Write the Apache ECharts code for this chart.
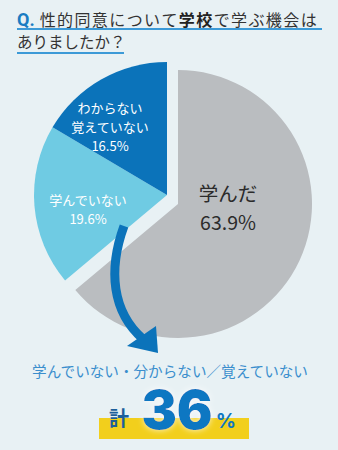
<!DOCTYPE html>
<html><head><meta charset="utf-8">
<script src="https://cdn.jsdelivr.net/npm/echarts@6/dist/echarts.min.js"></script>
<style>html,body{margin:0;padding:0;background:#e8f1f4;}#c{width:338px;height:450px;}</style>
</head><body><div id="c"></div>
<script>
const categories = ['学んだ', '学んでいない', 'わからない\n覚えていない'];
const values = [63.9, 19.6, 16.5];
const totalLabel = '36';
const sliceColors = ['#babdc0', '#6fcbe3', '#0b73ba'];
const JP = '"Noto Sans CJK JP", "Noto Sans", sans-serif';

const chart = echarts.init(document.getElementById('c'), null, {renderer: 'svg'});
const rest = values[1] + values[2];
const labelPos = {
  A0: [228, 207],
  B1: [88, 209],
  B2: [110, 126]
};
const lbl = (name, v) => name + '\n' + v.toFixed(1) + '%';
const place = p => ({x: p[0], y: p[1], align: 'center', verticalAlign: 'middle', hideOverlap: false, moveOverlap: null});

// title line 1 with slight tracking (justified in original)
const t1 = '性的同意について';
const t2 = 'で学ぶ機会は';
const tok = (s, st) => s.split('').map(c => '{' + st + '|' + c + '}').join('');
const titleRich = '{q|Q.}' + tok(t1, 'n') + tok('学校', 'b') + tok(t2, 'n');

chart.setOption({
  backgroundColor: '#e8f1f4',
  animation: false,
  series: [
    {
      type: 'pie', radius: 134, center: [178, 204], startAngle: 90, clockwise: true,
      silent: true, avoidLabelOverlap: false, labelLine: {show: false},
      label: {position: 'inside', overflow: 'none'},
      itemStyle: {borderWidth: 0},
      data: [
        {name: categories[0], value: values[0], itemStyle: {color: sliceColors[0]},
         label: {show: true, position: 'inside', overflow: 'none', formatter: lbl(categories[0], values[0]), color: '#2b2b2b', fontSize: 19.5, lineHeight: 28.5, fontFamily: JP}},
        {name: 'rest', value: rest, itemStyle: {color: 'rgba(0,0,0,0)'}, label: {show: false}}
      ],
      labelLayout: p => p.dataIndex === 0 ? place(labelPos.A0) : {}
    },
    {
      type: 'pie', radius: 133, center: [167, 195], startAngle: 90, clockwise: true,
      silent: true, avoidLabelOverlap: false, labelLine: {show: false},
      label: {position: 'inside', overflow: 'none'},
      itemStyle: {borderWidth: 0},
      data: [
        {name: 'gap', value: values[0], itemStyle: {color: 'rgba(0,0,0,0)'}, label: {show: false}},
        {name: categories[1], value: values[1], itemStyle: {color: sliceColors[1]},
         label: {show: true, position: 'inside', overflow: 'none', formatter: lbl(categories[1], values[1]), color: '#ffffff', fontSize: 13, lineHeight: 19, fontFamily: JP}},
        {name: categories[2], value: values[2], itemStyle: {color: sliceColors[2]},
         label: {show: true, position: 'inside', overflow: 'none', formatter: lbl(categories[2], values[2]), color: '#ffffff', fontSize: 13, lineHeight: 19, fontFamily: JP}}
      ],
      labelLayout: p => p.dataIndex === 1 ? place(labelPos.B1) : p.dataIndex === 2 ? place(labelPos.B2) : {}
    }
  ],
  graphic: [
    {type: 'text', left: 17, top: 10, style: {
      text: titleRich,
      rich: {
        q: {fontSize: 18, fontWeight: 'bold', fill: '#1a7cc2', fontFamily: 'Roboto, sans-serif', padding: [0, 5, 0, 0]},
        n: {fontSize: 16, fill: '#333333', fontFamily: JP, padding: [0, 1.4, 0, 0]},
        b: {fontSize: 16, fontWeight: 'bold', fill: '#222222', fontFamily: JP, padding: [0, 1.4, 0, 0]}
      }}},
    {type: 'text', left: 17, top: 33, style: {text: 'ありましたか？', fontSize: 15.5, fill: '#333333', fontFamily: JP}},
    {type: 'line', shape: {x1: 17, y1: 29, x2: 322, y2: 29}, style: {stroke: '#3c9ad7', lineWidth: 2}},
    {type: 'line', shape: {x1: 17, y1: 53, x2: 124, y2: 53}, style: {stroke: '#3c9ad7', lineWidth: 2}},
    {type: 'bezierCurve', shape: {x1: 124, y1: 226, cpx1: 108, cpy1: 270, cpx2: 112, cpy2: 312, x2: 143, y2: 339},
     style: {stroke: '#0b73ba', lineWidth: 9, fill: null}, z: 10},
    {type: 'polygon', shape: {points: [[127, 346], [156, 326], [158, 353]]}, style: {fill: '#0b73ba'}, z: 10},
    {type: 'text', x: 170, y: 370, style: {text: '学んでいない・分からない／覚えていない', fontSize: 14.6, fill: '#3a8ecd', fontFamily: JP, align: 'center', verticalAlign: 'middle'}},
    {type: 'rect', shape: {x: 99, y: 418, width: 150, height: 21}, style: {fill: '#f2cf1c'}},
    {type: 'text', x: 119, y: 417, z: 5, style: {text: '計', fontSize: 20, fontWeight: 'bold', fill: '#1c5f9b', fontFamily: JP, align: 'center', verticalAlign: 'middle'}},
    {type: 'text', x: 177, y: 410, z: 5, style: {text: totalLabel, fontSize: 53, lineHeight: 38, fontWeight: 900, fill: '#0f77c2', fontFamily: 'Inter, Roboto, sans-serif', align: 'center', verticalAlign: 'middle', textShadowColor: 'rgba(255,255,255,0.8)', textShadowBlur: 6}},
    {type: 'text', x: 226, y: 421, z: 5, style: {text: '%', fontSize: 20, lineHeight: 16, fontWeight: 'bold', fill: '#0f77c2', fontFamily: 'Inter, Roboto, sans-serif', align: 'center', verticalAlign: 'middle'}}
  ]
});
</script></body></html>
